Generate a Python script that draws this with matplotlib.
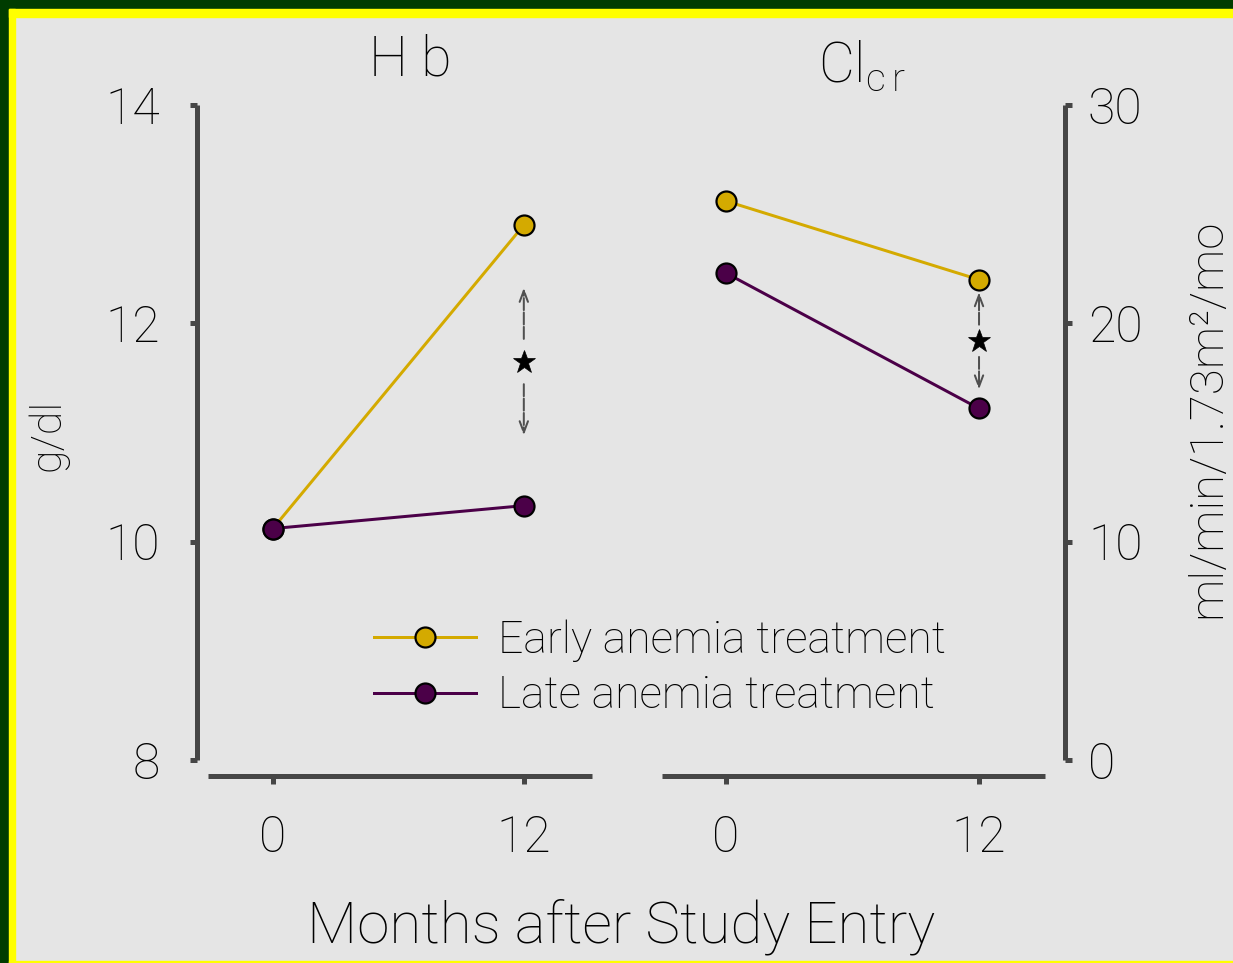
import matplotlib
matplotlib.use("Agg")
import matplotlib.pyplot as plt
from matplotlib.patches import Rectangle

# ---- data ----
months = [0, 12]
hb_early = [10.12, 12.90]
hb_late = [10.12, 10.33]
clcr_early = [25.6, 22.0]
clcr_late = [22.3, 16.1]
hb_ticks = [8, 10, 12, 14]
clcr_ticks = [0, 10, 20, 30]
month_ticks = [0, 12]
series_labels = ["Early anemia treatment", "Late anemia treatment"]
# extent of the significance arrows (upper head, lower head)
hb_arrow = [12.35, 10.95]
clcr_arrow = [21.55, 16.85]

EARLY = "#d4aa00"
LATE = "#4b0048"
AXC = "#464646"
BG = "#e5e5e5"
FONT = ["Roboto", "Liberation Sans", "DejaVu Sans"]

plt.rcParams["font.family"] = FONT
plt.rcParams["font.weight"] = "light"
plt.rcParams["mathtext.fontset"] = "custom"
plt.rcParams["mathtext.rm"] = "Roboto:light"

W, H = 1233, 963
fig = plt.figure(figsize=(W / 100, H / 100), dpi=100, facecolor=BG)


def fx(px):
    return px / W


def fy(py):
    return 1 - py / H


PX = 72 / 100  # points per pixel

# frame
fig.add_artist(Rectangle((0, fy(9)), 1, 9 / H, transform=fig.transFigure, color="#003c00", zorder=0))
fig.add_artist(Rectangle((0, 0), fx(9), 1, transform=fig.transFigure, color="#003c00", zorder=0))
fig.add_artist(Rectangle((fx(9), fy(17)), 1, 8 / H, transform=fig.transFigure, color="#ffff00", zorder=0))
fig.add_artist(Rectangle((fx(9), 0), 6 / W, fy(9), transform=fig.transFigure, color="#ffff00", zorder=0))
fig.add_artist(Rectangle((fx(9), 0), 1, 2 / H, transform=fig.transFigure, color="#ffff00", zorder=0))


def style_axes(ax, side, out_x, out_y):
    ax.set_facecolor("none")
    for s in ax.spines.values():
        s.set_visible(False)
    ax.spines[side].set_visible(True)
    ax.spines["bottom"].set_visible(True)
    ax.spines[side].set_position(("outward", out_y * PX))
    ax.spines["bottom"].set_position(("outward", out_x * PX))
    for s in (side, "bottom"):
        ax.spines[s].set_color(AXC)
        ax.spines[s].set_linewidth(5 * PX)
        ax.spines[s].set_capstyle("butt")
    ax.tick_params(axis="both", direction="out", color=AXC, width=5 * PX,
                   length=8 * PX, labelsize=36, labelcolor="black")
    ax.tick_params(axis="y", length=7 * PX)


def marker_line(ax, x, y, color):
    ax.plot(x, y, color=color, lw=3 * PX, marker="o", ms=20 * PX,
            mfc=color, mec="black", mew=2.2 * PX, zorder=3)


def sig_arrows(ax, xpos, top, bottom):
    mid = (top + bottom) / 2
    span = (top - bottom)
    gap = span * 0.13
    for end in (top, bottom):
        start = mid + gap if end > mid else mid - gap
        ax.annotate("", xy=(xpos, end), xytext=(xpos, start),
                    arrowprops=dict(arrowstyle="->,head_length=0.8,head_width=0.3",
                                    color="#505050", lw=2 * PX, linestyle=(0, (6, 1.2))),
                    zorder=2)
    ax.plot([xpos], [mid], marker="*", ms=17, color="black", mec="black",
            mew=0.5, zorder=4)


# ---- Hb panel ----
axL = fig.add_axes([fx(208), fy(760), fx(592) - fx(208), fy(105) - fy(760)])
style_axes(axL, "left", 16, 11)
axL.set_xlim(-3.1, 15.26)
axL.set_ylim(8, 14)
axL.set_yticks(hb_ticks)
axL.set_xticks(month_ticks)
axL.tick_params(axis="y", pad=30 * PX)
axL.tick_params(axis="x", pad=30 * PX)
marker_line(axL, months, hb_early, EARLY)
marker_line(axL, months, hb_late, LATE)
sig_arrows(axL, months[1], hb_arrow[0], hb_arrow[1])

# ---- creatinine clearance panel ----
axR = fig.add_axes([fx(662), fy(760), fx(1045) - fx(662), fy(105) - fy(760)])
style_axes(axR, "right", 16, 20)
axR.yaxis.tick_right()
axR.set_xlim(-3.04, 15.13)
axR.set_ylim(0, 30)
axR.set_yticks(clcr_ticks)
axR.set_xticks(month_ticks)
axR.tick_params(axis="y", pad=16 * PX)
axR.tick_params(axis="x", pad=30 * PX)
marker_line(axR, months, clcr_early, EARLY)
marker_line(axR, months, clcr_late, LATE)
sig_arrows(axR, months[1], clcr_arrow[0], clcr_arrow[1])

# ---- titles and axis labels ----
fig.text(fx(410), fy(60), "H b", ha="center", va="center", fontsize=40)
fig.text(fx(862), fy(66), r"Cl$_{\mathrm{c\,r}}$", ha="center", va="center", fontsize=40)
fig.text(fx(48), fy(435), "g/dl", rotation=90, ha="center", va="center", fontsize=31)
fig.text(fx(1207), fy(418), "ml/min/1.73m²/mo", rotation=90, ha="center",
         va="center", fontsize=34)
fig.text(fx(621), fy(927), "Months after Study Entry", ha="center", va="center",
         fontsize=42)

# ---- legend ----
axL.legend(series_labels, loc="upper left",
           bbox_to_anchor=(fx(374), fy(619)), bbox_transform=fig.transFigure,
           frameon=False, fontsize=32, handlelength=2.3, handletextpad=0.5,
           labelspacing=0.3, borderaxespad=0, borderpad=0)
fig.savefig("out.png", dpi=100, facecolor=BG)
